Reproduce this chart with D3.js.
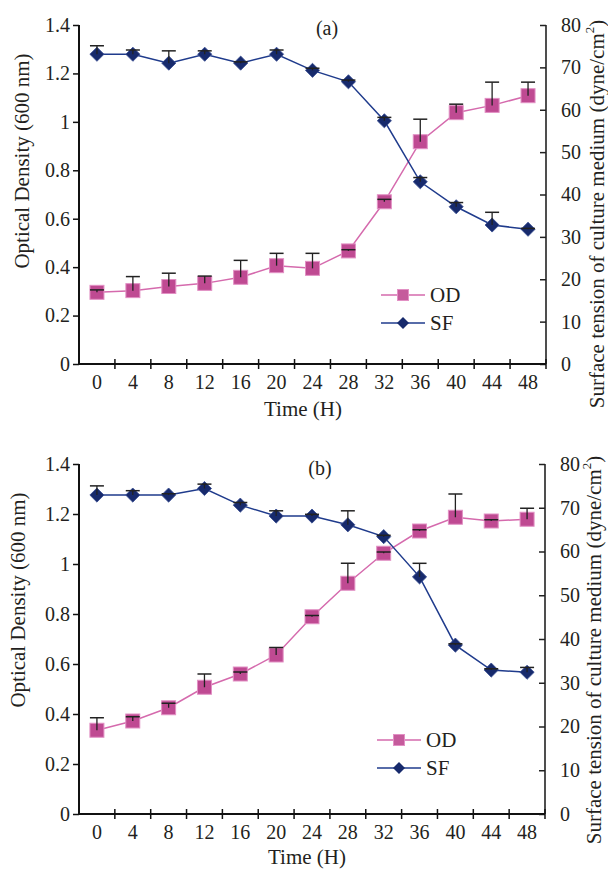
<!DOCTYPE html>
<html><head><meta charset="utf-8">
<script src="https://cdn.jsdelivr.net/npm/d3@7"></script>
<style>body{margin:0;background:#fff}svg text{font-family:"Liberation Serif","DejaVu Serif",serif;fill:#231f20}</style>
</head><body><svg id="c" width="608" height="870"></svg>
<script>
const times = [0,4,8,12,16,20,24,28,32,36,40,44,48];
const odTicks = [0,0.2,0.4,0.6,0.8,1,1.2,1.4];
const sfTicks = [0,10,20,30,40,50,60,70,80];
// Panel (a)
const odA    = [0.296,0.303,0.320,0.333,0.358,0.406,0.395,0.467,0.670,0.918,1.038,1.068,1.108];
const odErrA = [0.010,0.058,0.055,0.030,0.070,0.051,0.062,0.005,0.010,0.093,0.035,0.096,0.056];
const sfA    = [73.1,73.1,71.0,73.1,71.0,73.1,69.3,66.6,57.4,43.0,37.1,32.8,31.8];
const sfErrA = [2.0,1.0,2.9,0.8,0.3,1.0,0.5,0.4,0.8,1.0,1.0,3.0,0.2];
// Panel (b)
const odB    = [0.335,0.372,0.425,0.507,0.560,0.636,0.789,0.923,1.043,1.132,1.187,1.172,1.179];
const odErrB = [0.050,0.017,0.018,0.053,0.008,0.030,0.005,0.080,0.005,0.005,0.093,0.005,0.044];
const sfB    = [72.9,72.9,72.9,74.4,70.6,68.1,68.1,66.1,63.4,54.2,38.6,32.9,32.4];
const sfErrB = [2.1,1.0,0.3,1.0,0.6,1.2,0.4,3.2,0.3,3.1,0.3,0.3,1.1];

const svg = d3.select("#c");
const OD_FILL="#bf4a92", OD_STROKE="#e290c4", OD_LINE="#d56aad";
const SF_FILL="#172a6c", SF_LINE="#1f3b8c";

function panel(cfg){
  const g = svg.append("g");
  const x = d3.scaleBand().domain(times).range([cfg.x0,cfg.x1]);
  const yL = d3.scaleLinear().domain([0,1.4]).range([cfg.yb,cfg.yt]);
  const yR = d3.scaleLinear().domain([0,80]).range([cfg.yb,cfg.yt]);
  const cx = t => x(t)+x.bandwidth()/2;

  // left axis
  const la = g.append("g").attr("transform",`translate(${cfg.x0},0)`)
    .call(d3.axisLeft(yL).tickValues(odTicks).tickSize(6).tickPadding(3)
      .tickFormat(d=> (d===0||d===1)? String(d) : d3.format(".1f")(d)));
  la.select(".domain").attr("stroke","#111").attr("stroke-width",2).attr("d",`M0,${cfg.yt}V${cfg.yb}`);
  la.selectAll(".tick line").attr("stroke","#111").attr("stroke-width",1.5);
  la.selectAll("text").style("font-size","20px").attr("fill","#231f20");

  // right axis
  const ra = g.append("g").attr("transform",`translate(${cfg.x1},0)`)
    .call(d3.axisRight(yR).tickValues(sfTicks).tickSize(-6).tickPadding(15));
  ra.select(".domain").attr("stroke","#222").attr("stroke-width",1.6).attr("d",`M0,${cfg.yt}V${cfg.yb}`);
  ra.selectAll(".tick line").attr("stroke","#222").attr("stroke-width",1.5);
  ra.selectAll("text").style("font-size","20px").attr("fill","#231f20");

  // bottom axis
  const ba = g.append("g").attr("transform",`translate(0,${cfg.yb})`)
    .call(d3.axisBottom(x).tickSize(0).tickPadding(11));
  ba.select(".domain").attr("stroke","#111").attr("stroke-width",2).attr("d",`M${cfg.x0},0H${cfg.x1}`);
  ba.selectAll("text").style("font-size","20px").attr("fill","#231f20");
  const bounds = times.slice(1).map(t=>x(t)).concat([cfg.x1]);
  ba.selectAll("line.bt").data(bounds).join("line").attr("class","bt")
    .attr("x1",d=>d).attr("x2",d=>d).attr("y1",-5).attr("y2",5)
    .attr("stroke","#111").attr("stroke-width",1.5);

  // OD line + markers
  const lineOD = d3.line().x((d,i)=>cx(times[i])).y(d=>yL(d));
  g.append("path").attr("d",lineOD(cfg.od)).attr("fill","none").attr("stroke",OD_LINE).attr("stroke-width",1.5);
  g.selectAll("rect.od").data(cfg.od).join("rect").attr("class","od")
    .attr("x",(d,i)=>cx(times[i])-7).attr("y",d=>yL(d)-7).attr("width",14).attr("height",14)
    .attr("fill",OD_FILL).attr("stroke",OD_STROKE).attr("stroke-width",1);
  // SF line + markers
  const lineSF = d3.line().x((d,i)=>cx(times[i])).y(d=>yR(d));
  g.append("path").attr("d",lineSF(cfg.sf)).attr("fill","none").attr("stroke",SF_LINE).attr("stroke-width",1.5);
  g.selectAll("path.sf").data(cfg.sf).join("path").attr("class","sf")
    .attr("d",d3.symbol().type(d3.symbolSquare).size(100))
    .attr("transform",(d,i)=>`translate(${cx(times[i])},${yR(d)}) rotate(45)`)
    .attr("fill",SF_FILL).attr("stroke","#3a4f94").attr("stroke-width",0.8);

  // error bars
  function err(vals, errs, y){
    vals.forEach((v,i)=>{
      const X = cx(times[i]), y0=y(v), y1=y(v+errs[i]);
      g.append("line").attr("x1",X).attr("x2",X).attr("y1",y0).attr("y2",y1).attr("stroke","#222").attr("stroke-width",1.3);
      g.append("line").attr("x1",X-7).attr("x2",X+7).attr("y1",y1).attr("y2",y1).attr("stroke","#222").attr("stroke-width",1.5);
    });
  }
  err(cfg.od,cfg.odErr,yL);
  err(cfg.sf,cfg.sfErr,yR);

  // title
  g.append("text").attr("x",cfg.tx).attr("y",cfg.ty).attr("text-anchor","middle").style("font-size","20px").text(cfg.title);
  // axis labels
  g.append("text").attr("x",cfg.xlx).attr("y",cfg.xly).attr("text-anchor","middle").style("font-size","21px").text("Time (H)");
  g.append("text").attr("transform",`translate(${cfg.llx},${cfg.lly}) rotate(-90)`).attr("text-anchor","middle")
    .attr("dominant-baseline","central").style("font-size","21px").text("Optical Density (600 nm)");
  const rl = g.append("text").attr("transform",`translate(${cfg.rlx},${cfg.rly}) rotate(-90)`).attr("text-anchor","middle")
    .attr("dominant-baseline","central").style("font-size","21px");
  rl.append("tspan").text("Surface tension of culture medium (dyne/cm");
  rl.append("tspan").attr("baseline-shift","super").style("font-size","13px").text("2");
  rl.append("tspan").text(")");

  // legend
  const lg = g.append("g");
  lg.append("line").attr("x1",cfg.lgx).attr("x2",cfg.lgx+44).attr("y1",cfg.lgy).attr("y2",cfg.lgy).attr("stroke",OD_LINE).attr("stroke-width",1.5);
  lg.append("rect").attr("x",cfg.lgx+22-5.5).attr("y",cfg.lgy-5.5).attr("width",11).attr("height",11).attr("fill","#c55b9c").attr("stroke",OD_STROKE);
  lg.append("text").attr("x",cfg.lgx+49).attr("y",cfg.lgy).attr("dominant-baseline","central").style("font-size","21px").text("OD");
  const y2 = cfg.lgy+cfg.lgdy;
  lg.append("line").attr("x1",cfg.lgx).attr("x2",cfg.lgx+44).attr("y1",y2).attr("y2",y2).attr("stroke",SF_LINE).attr("stroke-width",1.5);
  lg.append("path").attr("d",d3.symbol().type(d3.symbolSquare).size(72)).attr("transform",`translate(${cfg.lgx+22},${y2}) rotate(45)`).attr("fill",SF_FILL);
  lg.append("text").attr("x",cfg.lgx+49).attr("y",y2).attr("dominant-baseline","central").style("font-size","21px").text("SF");
}

panel({x0:79,x1:546,yt:25,yb:364,od:odA,odErr:odErrA,sf:sfA,sfErr:sfErrA,title:"(a)",tx:327,ty:35,
  xlx:303,xly:416,llx:22,lly:161,rlx:597,rly:214,lgx:381,lgy:295,lgdy:28});
panel({x0:79,x1:545,yt:464,yb:814,od:odB,odErr:odErrB,sf:sfB,sfErr:sfErrB,title:"(b)",tx:320,ty:475,
  xlx:307,xly:864,llx:18,lly:600,rlx:594,rly:650,lgx:377,lgy:740,lgdy:28});
</script></body></html>
